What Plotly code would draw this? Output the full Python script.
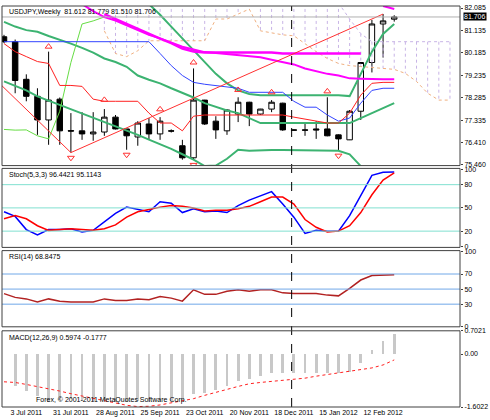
import plotly.graph_objects as go

dates = ["3 Jul 2011","31 Jul 2011","28 Aug 2011","25 Sep 2011","23 Oct 2011","20 Nov 2011","18 Dec 2011","15 Jan 2012","12 Feb 2012"]
date_idx = [0,4,8,12,16,20,24,28,32]

opens  = [80.87,80.66,79.07,78.35,77.35,78.23,76.90,76.89,76.76,76.84,77.47,76.97,76.63,77.18,76.76,76.89,76.26,75.75,78.19,77.30,76.89,77.60,78.10,77.60,77.81,78.06,76.93,76.93,76.97,76.97,76.72,76.51,77.72,79.78,81.41,81.612]
highs  = [80.95,80.75,79.28,78.69,80.24,78.30,77.64,77.68,77.68,77.81,77.56,76.97,77.30,77.43,77.47,76.95,76.51,79.53,78.20,77.51,77.80,78.31,78.12,77.82,78.19,78.08,76.95,77.18,77.30,78.31,76.74,77.77,79.80,81.58,81.83,81.779]
lows   = [80.60,78.48,78.14,76.72,76.30,76.30,75.97,76.51,76.47,76.68,76.95,76.09,76.26,76.51,76.51,76.82,75.67,75.67,77.14,76.55,76.72,77.26,77.09,77.56,77.68,76.89,76.90,76.68,76.55,76.66,76.05,76.50,77.35,79.36,79.99,81.510]
closes = [80.66,79.02,78.35,77.35,78.19,76.89,76.88,76.76,76.84,77.47,76.97,76.68,77.22,76.76,77.30,76.88,75.75,78.19,77.18,76.93,77.77,78.10,77.60,77.81,78.10,76.93,76.92,76.92,76.93,76.68,76.55,77.72,79.78,81.41,81.54,81.706]

kijun = [80.66]*14 + [80.16,79.65,79.23,78.94,78.86,78.81,78.77,78.69,78.52,78.52,78.52,78.52,78.14,77.89,77.89,77.56,77.30,77.43,78.06,78.60,78.69,78.69]
tenkan = [80.58,80.24,80.03,79.82,79.74,78.81,78.81,78.77,78.23,78.14,78.14,78.14,78.14,77.64,77.22,77.22,76.89,77.51,77.56,77.56,77.56,77.56,77.56,77.56,77.56,77.56,77.47,77.39,77.30,77.22,77.22,77.64,78.40,78.90,78.94,78.94]
bb_up = [85.0,84.8,84.6,84.5,84.3,84.1,83.9,83.7,83.5,83.2,83.0,82.7,82.4,82.25,81.8,81.3,80.8,80.3,79.8,79.3,78.9,78.6,78.45,78.40,78.40,78.40,78.40,78.40,78.40,78.40,78.40,78.36,79.32,80.24,80.99,81.41]
bb_mid = [81.50,81.30,81.15,81.08,80.90,80.75,80.58,80.40,80.20,79.95,79.80,79.60,79.23,79.05,78.90,78.69,78.50,78.30,78.06,77.90,77.75,77.64,77.43,77.22,77.22,77.22,77.22,77.22,77.22,77.22,77.22,77.22,77.43,77.64,77.85,78.06]
bb_low = [78.98,78.80,78.60,78.35,78.17,78.00,77.81,77.63,77.45,77.26,77.08,76.90,76.72,76.52,76.33,76.13,75.90,75.67,75.40,75.42,75.71,76.09,76.05,76.08,76.08,76.08,76.08,76.08,76.08,76.08,76.05,75.90,75.40,75.00,74.80,74.70]
ma_a_idx = list(range(9,33))
ma_a = [81.83,81.62,81.40,81.20,81.00,80.79,80.60,80.37,80.24,80.20,80.20,80.20,80.20,80.20,80.20,80.20,80.16,80.16,80.16,80.16,80.16,80.16,80.16,80.16]
ma_b_idx = list(range(7,36))
ma_b = [82.25,81.95,81.70,81.55,81.35,81.15,80.95,80.80,80.62,80.45,80.33,80.22,80.18,80.14,80.10,80.07,80.00,79.90,79.80,79.70,79.53,79.40,79.30,79.23,79.11,79.09,79.07,79.07,79.07]
ma_c_idx = [34,35]
ma_c = [82.17,82.04]
span_idx = list(range(9,41))
span_b = [81.12,80.16,80.03,80.28,80.70,80.70,80.70,80.70,80.70,80.70,81.62,81.62,81.83,82.04,81.12,81.04,80.95,80.91,80.58,80.24,79.95,79.74,79.65,79.61,79.57,79.53,79.49,79.32,78.98,78.48,78.19,78.19]
span_a = [82.3]*22 + [81.62,81.00] + [80.66]*8
chikou = [76.95,76.92,76.93,76.68,76.55,77.72,79.78,81.41,81.54,81.706]
zz_idx = [-0.3,6,34]
zz_val = [78.85,75.97,81.83]
fr_up_idx = [4,9,14,17,21,24,29]
fr_up_val = [80.45,78.20,77.80,79.78,78.62,78.52,78.56]
fr_dn_idx = [6,11,17,30]
fr_dn_val = [75.75,75.88,75.45,75.84]

stoch_k = [45,39,22,15,22,22,23,19,21,32,43,51,48,45,58,56,44,49,45,46,44,53,60,65,71,55,38,17,21,20,20,40,67,92,96,96.44]
stoch_d = [36,40,36,27,21,22,23,22,21,23,28,38,45,48,51,53,52,50,46,47,47,49,52,58,64,64,55,35,25,19,20,27,44,67,86,95.11]
rsi = [44,39,37,33,37,34,33,33,33,37,35,35,37,36,40,38,34,49,43,43,47,49,47,49,49,45,44,44,44,42,41,51,62,68,68,68.85]
macd_idx = list(range(1,36))
macd_hist = [-0.97,-1.11,-1.27,-1.43,-1.38,-1.36,-1.40,-1.41,-1.38,-1.46,-1.46,-1.41,-1.43,-1.40,-1.40,-1.38,-1.19,-1.16,-1.09,-0.95,-0.82,-0.74,-0.66,-0.56,-0.58,-0.58,-0.58,-0.56,-0.56,-0.56,-0.53,-0.26,0.12,0.39,0.5974]
macd_sig = [-0.84,-0.86,-0.92,-0.98,-1.05,-1.12,-1.20,-1.27,-1.36,-1.43,-1.50,-1.55,-1.59,-1.58,-1.54,-1.48,-1.42,-1.35,-1.25,-1.17,-1.07,-0.98,-0.90,-0.86,-0.83,-0.80,-0.78,-0.73,-0.67,-0.62,-0.57,-0.52,-0.49,-0.42,-0.33,-0.1777]

price_ticks = [82.085,81.135,80.185,79.235,78.285,77.335,76.410,75.460]
N = len(closes)
xi = list(range(N))
F = "Liberation Sans"
FS = 7

fig = go.Figure()
def L(x, y, color, width=1, dash=None, ax="y"):
    fig.add_trace(go.Scatter(x=x, y=y, mode="lines", line=dict(color=color, width=width, dash=dash), yaxis=ax, hoverinfo="skip"))

hx, hy = [], []
for i, a, b in zip(span_idx, span_a, span_b):
    hx += [i, i, None]; hy += [a, b, None]
fig.add_trace(go.Scatter(x=hx, y=hy, mode="lines", line=dict(color="#c8b4e6", width=1, dash="dot"), hoverinfo="skip"))
L(span_idx, span_b, "#f0b080", 1, "dot")
L(span_idx, span_a, "#c8b4e6", 1, "dot")
L(xi, bb_up, "#3cb371", 2)
L(xi, bb_mid, "#3cb371", 2)
L(xi, bb_low, "#3cb371", 2)
L(list(range(len(chikou))), chikou, "#66dd44", 1)
L(ma_a_idx, ma_a, "#ff00ff", 2.5)
L(ma_b_idx, ma_b, "#ff00ff", 2)
L(ma_c_idx, ma_c, "#ff00ff", 2)
L(xi, kijun, "#3344ff", 1)
L(xi, tenkan, "#ff2020", 1)
L(zz_idx, zz_val, "#ff3030", 1)
fig.add_trace(go.Candlestick(x=xi, open=opens, high=highs, low=lows, close=closes,
    increasing=dict(line=dict(color="black", width=1), fillcolor="white"),
    decreasing=dict(line=dict(color="black", width=1), fillcolor="black"),
    whiskerwidth=0, hoverinfo="skip"))
fig.add_trace(go.Scatter(x=fr_up_idx, y=fr_up_val, mode="markers", marker=dict(symbol="triangle-up-open", color="#ff3030", size=6), hoverinfo="skip"))
fig.add_trace(go.Scatter(x=fr_dn_idx, y=fr_dn_val, mode="markers", marker=dict(symbol="triangle-down-open", color="#ff3030", size=6), hoverinfo="skip"))

L(xi, stoch_k, "#0000ff", 1.5, ax="y2")
L(xi, stoch_d, "#ff0000", 1.5, ax="y2")
L(xi, rsi, "#b22222", 1.5, ax="y3")
fig.add_trace(go.Bar(x=macd_idx, y=macd_hist, marker=dict(color="#c8c8c8", line=dict(width=0)), width=0.25, yaxis="y4", hoverinfo="skip"))
L(xi, macd_sig, "#ff2020", 1, "dot", ax="y4")

shapes = []
for lv in [20, 50, 80]:
    shapes.append(dict(type="line", xref="paper", x0=0, x1=1, yref="y2", y0=lv, y1=lv, line=dict(color="#80e0d0", width=1)))
for lv in [30, 50, 70]:
    shapes.append(dict(type="line", xref="paper", x0=0, x1=1, yref="y3", y0=lv, y1=lv, line=dict(color="#70a8e8", width=1)))
shapes.append(dict(type="line", xref="paper", x0=0, x1=1, yref="y", y0=closes[-1], y1=closes[-1], line=dict(color="#b0b0b0", width=1)))
shapes.append(dict(type="line", xref="x", x0=25.8, x1=25.8, yref="paper", y0=0, y1=1, line=dict(color="black", width=1, dash="dash")))
for ax in ["y", "y2", "y3", "y4"]:
    shapes.append(dict(type="rect", xref="paper", x0=0, x1=1, yref=ax + " domain", y0=0, y1=1, line=dict(color="#404040", width=1)))

ann = []
def A(text, y, x=0.01, anchor="top"):
    ann.append(dict(text=text, x=x, xref="paper", y=y, yref="paper", showarrow=False, xanchor="left", yanchor=anchor, font=dict(size=FS, family=F, color="black")))
A("USDJPY,Weekly  81.612 81.779 81.510 81.706", 1.0)
A("Stoch(5,3,3) 96.4421 95.1143", 0.593)
A("RSI(14) 68.8475", 0.388)
A("MACD(12,26,9) 0.5974 -0.1777", 0.188)
A("Forex, © 2001-2011 MetaQuotes Software Corp.", 0.003, x=0.07, anchor="bottom")
ann.append(dict(text="81.706", x=1.0, xref="paper", xshift=3, y=closes[-1], yref="y", showarrow=False, xanchor="left", yanchor="middle",
                font=dict(size=FS, family=F, color="white"), bgcolor="black", borderpad=0))

ax_common = dict(showline=False, showgrid=False, zeroline=False, ticks="outside", ticklen=2,
                 tickcolor="#404040", tickfont=dict(size=FS, family=F, color="black"), side="right", anchor="x", fixedrange=True)
fig.update_layout(
    width=490, height=420, margin=dict(l=2, r=28, t=2, b=13),
    paper_bgcolor="white", plot_bgcolor="white", showlegend=False, bargap=0,
    font=dict(family=F, size=FS),
    xaxis=dict(range=[-0.18, 40.9], anchor="y4", showline=False, showgrid=False, zeroline=False,
               tickvals=[i + 2.0 for i in date_idx], ticktext=dates, ticks="", tickangle=0,
               tickfont=dict(size=FS, family=F, color="black"), rangeslider=dict(visible=False)),
    yaxis=dict(domain=[0.602, 1], range=[75.42, 82.17], tickvals=price_ticks, ticktext=[f"{v:.3f}" for v in price_ticks], **ax_common),
    yaxis2=dict(domain=[0.398, 0.595], range=[-1, 101], tickvals=[0, 20, 50, 80, 100], **ax_common),
    yaxis3=dict(domain=[0.2, 0.39], range=[0, 101], tickvals=[0, 30, 50, 70, 100], **ax_common),
    yaxis4=dict(domain=[0, 0.19], range=[-1.6022, 0.7021], tickvals=[-1.6022, 0.0, 0.7021], ticktext=["-1.6022", "0.00", "0.7021"], **ax_common),
    shapes=shapes, annotations=ann,
)
fig.write_html("out.html", config={"displayModeBar": False},
               post_script="document.body.style.margin='0';document.body.style.overflow='hidden';")
